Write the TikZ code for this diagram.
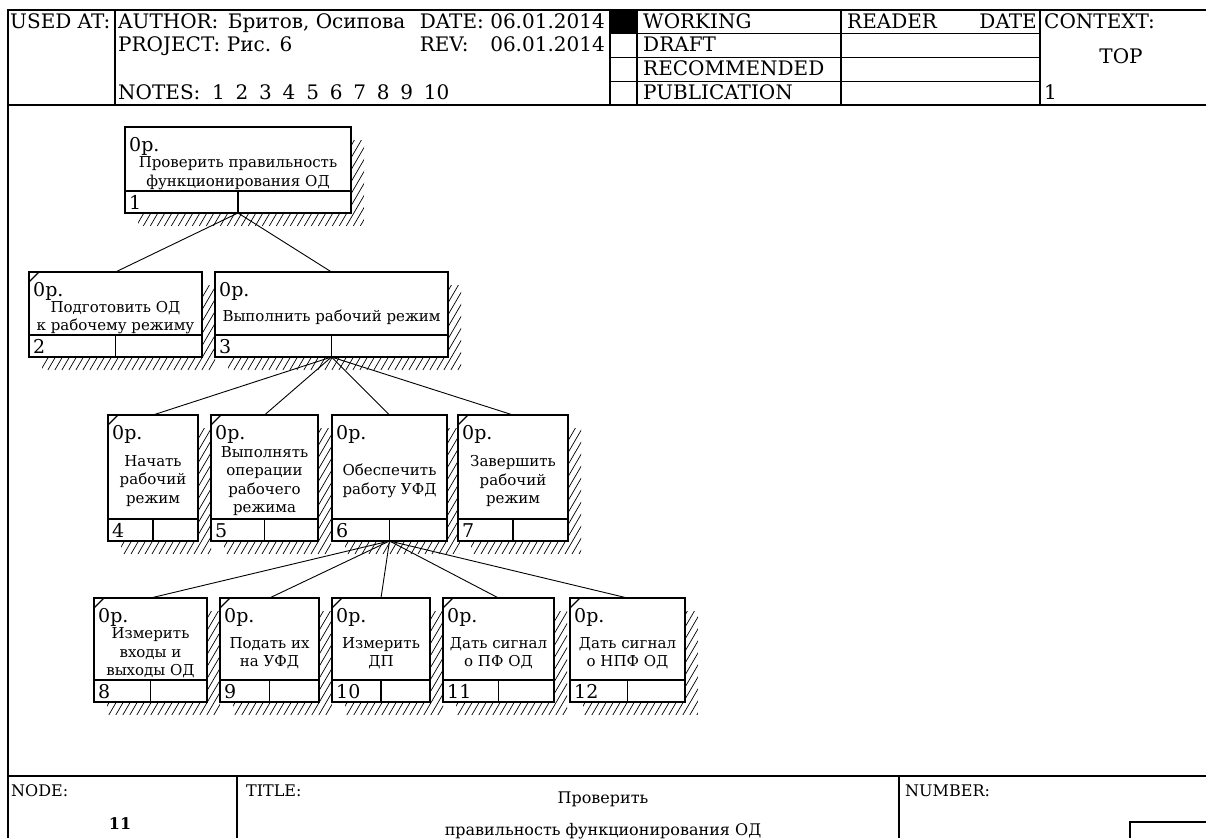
\documentclass[tikz,border=0pt]{standalone}
\usepackage{fontspec}
\setmainfont{DejaVu Serif}
\usetikzlibrary{calc}

\newcommand\hdrfont{\fontsize{20}{23}\selectfont}
\newcommand\boxfont{\fontsize{19}{22}\selectfont}
\newcommand\ttlfont{\fontsize{15}{18.5}\selectfont}
\newcommand\ftfont{\fontsize{16}{19}\selectfont}

\tikzset{
  frameline/.style={line width=1.6pt},
  boxline/.style={line width=1.6pt},
  cellline/.style={line width=1.1pt},
  conn/.style={line width=0.9pt},
  hatchline/.style={line width=0.7pt},
  hdr/.style={font=\hdrfont, inner sep=0pt, anchor=base west},
  hdrr/.style={font=\hdrfont, inner sep=0pt, anchor=base east},
  bx/.style={font=\boxfont, inner sep=0pt, anchor=base west},
  ftr/.style={font=\ftfont, inner sep=0pt, anchor=base west},
  actframe/.style={draw, boxline, fill=white, inner sep=0pt, outer sep=0pt, anchor=north west},
}

% activity box: name, left, top, right, bottom, title, number, leaf flag (1 = not decomposed)
\newcommand{\actbox}[8]{%
  \pgfmathsetmacro{\bw}{#4-#2}%
  \pgfmathsetmacro{\bh}{#5-#3}%
  \pgfmathsetmacro{\hh}{#5+13-#3}%
  \pgfmathsetmacro{\hs}{#2+6-0.583*\hh}%
  \pgfmathtruncatemacro{\hn}{(#4-#2+0.583*\hh+16)/7}%
  \begin{scope}
    \clip (#4+1,#3+13) rectangle (#4+13,#5+13)
          (#2+13,#5+1) rectangle (#4+13,#5+13);
    \foreach \i in {0,...,\hn}
      \draw[hatchline] ({\hs+\i*7},{#5+13}) -- ++({0.583*\hh},{-\hh});
  \end{scope}
  \node[actframe, minimum width=\bw pt, minimum height=\bh pt] (#1) at (#2,#3) {};
  \draw[cellline] (#2,#5-22) -- (#4,#5-22);
  \draw[cellline] ({(#2+#4)/2},#5) -- ({(#2+#4)/2},#5-22);
  \node[bx] at (#2+4,#3+24) {0р.};
  \node[font=\ttlfont, align=center, inner sep=0pt] at ({(#2+#4)/2},{(#3+#5+6)/2}) {#6};
  \node[bx] at (#2+4,#5-4) {#7};
  \ifnum#8=1 \draw[cellline] (#2,#3+10) -- (#2+10,#3);\fi
}

\begin{document}
\begin{tikzpicture}[x=1pt,y=-1pt]
\useasboundingbox (0,0) rectangle (1206,838);

% ---------- outer frame and header ----------
\draw[frameline] (1206,10) -- (8,10) -- (8,838);
\draw[frameline] (8,105) -- (1206,105);
\draw[frameline] (115,10) -- (115,105);
\draw[frameline] (610,10) -- (610,105);
\draw[cellline] (637,10) -- (637,105);
\draw[frameline] (841,10) -- (841,105);
\draw[frameline] (1040,10) -- (1040,105);
\foreach \r in {33.75,57.5,81.25}
  \draw[cellline] (610,\r) -- (1040,\r);
\fill (610,10) rectangle (637,33.75);

\node[hdr] (usedat) at (10,28.5) {USED AT:};
\node[hdr] (author) at (118,28.5) {AUTHOR:};
\node[hdr] (authors) at ([xshift=9pt]author.base east) {Бритов, Осипова};
\node[hdrr] (dateval) at (605,28.5) {06.01.2014};
\node[hdrr] (datelbl) at ([xshift=-6pt]dateval.base west) {DATE:};
\node[hdr] (project) at (118,51) {PROJECT:};
\node[hdr] (projval) at ([xshift=6pt]project.base east) {Рис. 6};
\node[hdrr] (revval) at (605,51) {06.01.2014};
\node[hdr] (revlbl) at (datelbl.base west |- revval.base) {REV:};
\node[hdr] (notes) at (118,99) {NOTES:};
\node[hdr] (notesval) at (212,99) {\spaceskip=0.54em 1 2 3 4 5 6 7 8 9 10};

\node[hdr] (working) at (643,28.5) {WORKING};
\node[hdr] (draft) at (643,51.5) {DRAFT};
\node[hdr] (recomm) at (643,75) {RECOMMENDED};
\node[hdr] (public) at (643,99) {PUBLICATION};
\node[hdr] (reader) at (847,28.5) {READER};
\node[hdrr] (rdate) at (1037,28.5) {DATE};
\node[hdr] (context) at (1044,28.5) {CONTEXT:};
\node[font=\hdrfont, inner sep=0pt, anchor=base] (top) at (1121,63) {TOP};
\node[hdr] (ctxnum) at (1044,99) {1};

% ---------- node tree ----------
\actbox{b1}{125}{127}{351}{213}{Проверить правильность\\функционирования ОД}{1}{0}
\actbox{b2}{29}{272}{202}{357}{Подготовить ОД\\к рабочему режиму}{2}{1}
\actbox{b3}{215}{272}{448}{357}{Выполнить рабочий режим}{3}{0}
\actbox{b4}{108}{415}{198}{541}{Начать\\рабочий\\режим}{4}{1}
\actbox{b5}{211}{415}{318}{541}{Выполнять\\операции\\рабочего\\режима}{5}{1}
\actbox{b6}{332}{415}{447}{541}{Обеспечить\\работу УФД}{6}{0}
\actbox{b7}{458}{415}{568}{541}{Завершить\\рабочий\\режим}{7}{1}
\actbox{b8}{94}{598}{207}{702}{Измерить\\входы и\\выходы ОД}{8}{1}
\actbox{b9}{220}{598}{319}{702}{Подать их\\на УФД}{9}{1}
\actbox{b10}{332}{598}{430}{702}{Измерить\\ДП}{10}{1}
\actbox{b11}{443}{598}{554}{702}{Дать сигнал\\о ПФ ОД}{11}{1}
\actbox{b12}{570}{598}{685}{702}{Дать сигнал\\о НПФ ОД}{12}{1}

\foreach \c in {b2,b3} \draw[conn] (b1.south) -- (\c.north);
\foreach \c in {b4,b5,b6,b7} \draw[conn] (b3.south) -- (\c.north);
\foreach \c in {b8,b9,b10,b11,b12} \draw[conn] (b6.south) -- (\c.north);

% ---------- footer ----------
\draw[frameline] (8,776) -- (1206,776);
\draw[frameline] (237,776) -- (237,838);
\draw[frameline] (899,776) -- (899,838);
\draw[cellline] (1130,838) -- (1130,822) -- (1206,822);
\node[ftr] (nodelbl) at (11,796) {NODE:};
\node[font=\ftfont\bfseries, inner sep=0pt, anchor=base] (nodenum) at (120,829) {11};
\node[ftr] (titlelbl) at (246,796) {TITLE:};
\node[font=\ftfont, inner sep=0pt, anchor=base] (title1) at (603,803) {Проверить};
\node[font=\ftfont, inner sep=0pt, anchor=base] (title2) at (603,835) {правильность функционирования ОД};
\node[ftr] (numberlbl) at (905,796) {NUMBER:};
\end{tikzpicture}
\end{document}
